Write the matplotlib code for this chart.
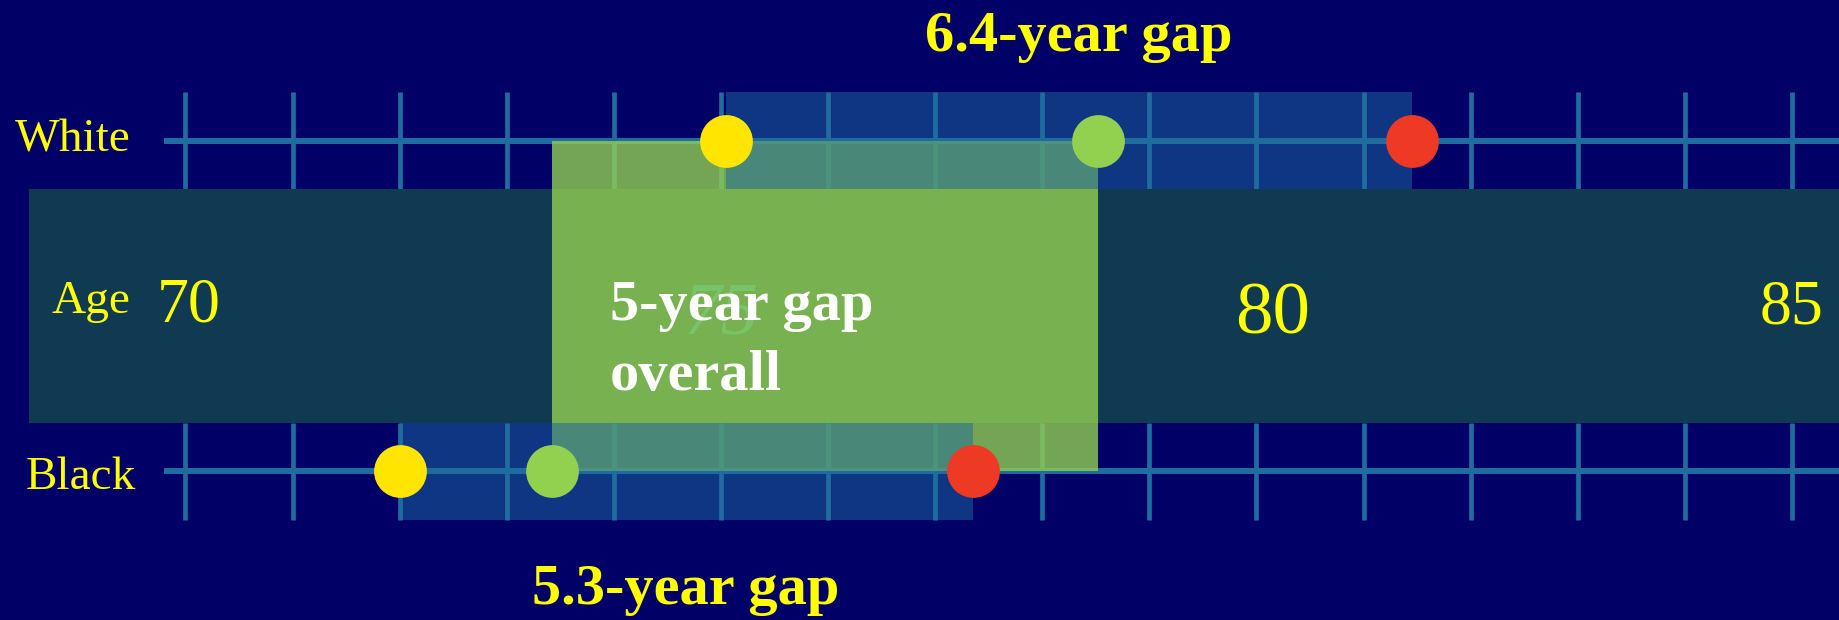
import numpy as np
import matplotlib.pyplot as plt
from matplotlib.patches import Rectangle

plt.rcParams['font.family'] = ['Liberation Serif', 'DejaVu Serif']

# --------------------- data ---------------------
year_ticks = np.arange(70, 86)          # one tick per year
year_labels = [70, 75, 80, 85]
groups = ['White', 'Black']
low_age = [75.05, 72.0]                 # yellow dots
mid_age = [78.52, 73.42]                # green dots
high_age = [81.45, 77.35]               # red dots
gap_text = ['6.4-year gap', '5.3-year gap']
overall_text = ['5-year gap', 'overall']

# --------------------- style ---------------------
navy = '#000066'
band_col = '#0F3A52'
line_col = '#1F6D9E'
dot_cols = ['#FFE500', '#92D050', '#EE3A24']
yellow = '#FFFF00'

# layout (pixel rows, years across)
x0 = 70 - 185.4 / 107.1
x1 = x0 + 1840 / 107.1
row_y = [140.5, 471]
tick_top = [91.5, 423]
tick_bot = [189, 520]
band_y = (189, 423)

fig = plt.figure(figsize=(18.4, 6.2), dpi=100, facecolor=navy)
ax = fig.add_axes([0, 0, 1, 1])
ax.set_xlim(x0, x1)
ax.set_ylim(620, 0)
ax.axis('off')

# timelines with yearly ticks
for i, y in enumerate(row_y):
    ax.hlines(y, 69.8, x1, color=line_col, lw=4.3, zorder=1)
    ax.vlines(year_ticks, tick_top[i], tick_bot[i], color=line_col, lw=3.4, zorder=1)
    ax.add_patch(Rectangle((low_age[i], tick_top[i]), high_age[i] - low_age[i],
                           tick_bot[i] - tick_top[i], color=line_col, alpha=0.5,
                           lw=0, zorder=5))
    for ages, c in zip([low_age, mid_age, high_age], dot_cols):
        ax.plot([ages[i]], [y], 'o', ms=38, color=c, mec='none', zorder=6)

# age band
ax.add_patch(Rectangle((68.54, band_y[0]), x1 - 68.54 + 1, band_y[1] - band_y[0],
                       color=band_col, lw=0, zorder=2))
ax.text(68.75, 313, 'Age', color=yellow, fontsize=34, ha='left', va='baseline', zorder=3)
label_size = {70: 46, 75: 54, 80: 54, 85: 46}
label_pos = {70: (70.03, 321), 75: (75.0, 333), 80: (80.15, 334), 85: (85.0, 323)}
for yr in year_labels:
    x, y = label_pos[yr]
    hidden = yr == 75   # sits under the overall box
    ax.text(x, y, str(yr), color='#149ECD' if hidden else yellow, fontsize=label_size[yr],
            ha='center', va='baseline', style='italic' if hidden else 'normal', zorder=3)

# overall gap box
ax.add_patch(Rectangle((mid_age[1], row_y[0]), mid_age[0] - mid_age[1], row_y[1] - row_y[0],
                       color=dot_cols[1], alpha=0.8, lw=0, zorder=4))
ax.text(73.96, 320, overall_text[0], color='white', fontsize=42, fontweight='bold',
        ha='left', va='baseline', zorder=7)
ax.text(73.96, 390, overall_text[1], color='white', fontsize=42, fontweight='bold',
        ha='left', va='baseline', zorder=7)

# group labels and gap labels
ax.text(68.41, 151.5, groups[0], color=yellow, fontsize=34, ha='left', va='baseline')
ax.text(68.51, 489, groups[1], color=yellow, fontsize=34, ha='left', va='baseline')
ax.text((low_age[0] + high_age[0]) / 2 + 0.09, 51, gap_text[0], color=yellow, fontsize=42,
        fontweight='bold', ha='center', va='baseline')
ax.text((low_age[1] + high_age[1]) / 2, 604, gap_text[1], color=yellow, fontsize=42,
        fontweight='bold', ha='center', va='baseline')

fig.savefig('out.png', dpi=100, facecolor=navy)
